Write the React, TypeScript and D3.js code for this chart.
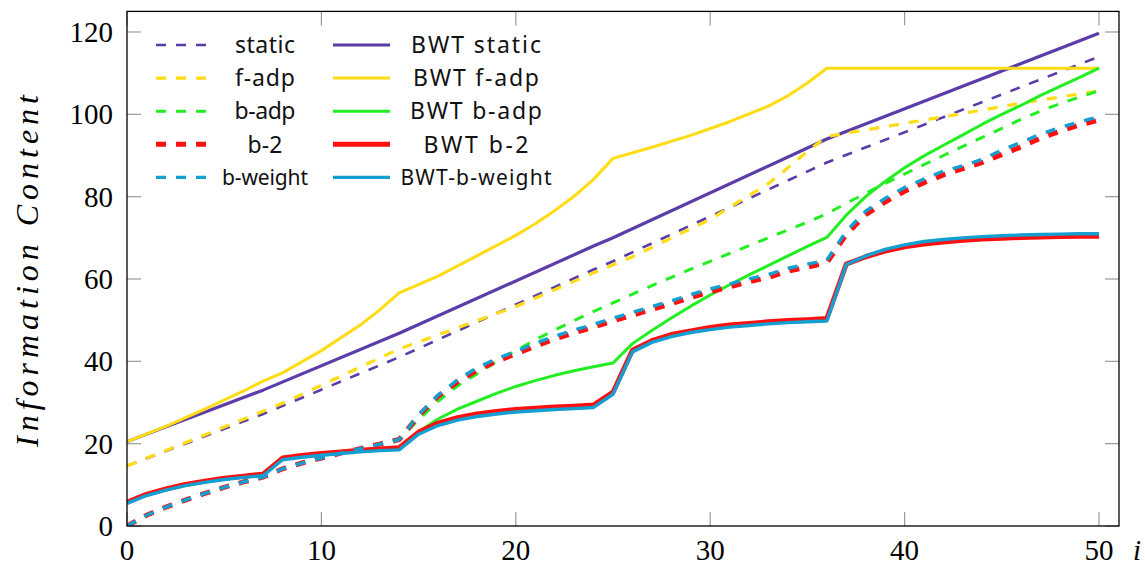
import * as d3 from 'd3';

// x positions are integer steps i = 0..50; each series is a list of [i, value]
const STATIC = [[0, 14.6], [7, 27.2], [14, 41], [24, 62.3], [25, 64.3], [36, 88.3], [50, 114]];
const BWT_STATIC = [[0, 20.5], [7, 33], [14, 46.8], [24, 68], [25, 70], [36, 94], [50, 119.7]];

const F_ADP = [
  [0, 14.6], [4, 22.1], [8, 29.8], [10, 34.2], [14, 43], [20, 53.3], [24, 61.5], [26, 65.4],
  [30, 74.5], [32, 80.3], [33, 83.2], [34, 87], [35, 91], [36, 94.6], [38, 96.2], [42, 99.4],
  [46, 102.7], [50, 105.7],
];
const BWT_F_ADP = [
  [0, 20.5], [2, 24.2], [4, 28.4], [6, 32.8], [7, 35.2], [8, 37.2], [10, 42.6], [12, 48.8],
  [13, 52.5], [14, 56.6], [16, 60.7], [18, 65.6], [20, 70.6], [21, 73.4], [22, 76.6], [23, 80.1],
  [24, 84.2], [25, 89.3], [27, 92], [29, 94.9], [31, 98.2], [33, 102], [34, 104.5], [35, 107.6],
  [36, 111.2], [50, 111.2],
];

const B_ADP = [
  [0, 0], [1, 2.6], [2, 4.6], [3, 6.3], [4, 7.9], [5, 9.4], [6, 10.7], [7, 11.9], [8, 13.9],
  [9, 15.3], [10, 16.5], [11, 17.7], [12, 18.8], [13, 19.9], [14, 21], [15, 25.8], [16, 30.3],
  [17, 34], [18, 36.9], [19, 39.9], [20, 42.6], [21, 45.2], [22, 47.6], [23, 49.9], [24, 52.1],
  [25, 54.2], [26, 56.3], [27, 58.4], [28, 60.4], [29, 62.4], [30, 64.3], [31, 66.2], [32, 68.1],
  [33, 70], [34, 71.9], [35, 73.8], [36, 75.8], [37, 78.4], [38, 80.8], [39, 83.2], [40, 85.5],
  [41, 87.8], [42, 90], [43, 92.2], [44, 94.4], [45, 96.6], [46, 98.8], [47, 100.8], [48, 102.6],
  [49, 104.2], [50, 105.7],
];
const BWT_B_ADP = [
  [0, 5.8], [1, 7.7], [2, 9], [3, 10.1], [4, 10.9], [5, 11.6], [6, 12.1], [7, 12.7], [8, 16.6],
  [9, 17.2], [10, 17.7], [11, 18.1], [12, 18.5], [13, 18.8], [14, 19.1], [15, 22.9], [16, 26],
  [17, 28.4], [18, 30.3], [19, 32.2], [20, 33.9], [21, 35.3], [22, 36.6], [23, 37.7], [24, 38.7],
  [25, 39.6], [26, 44.3], [27, 47.5], [28, 50.5], [29, 53.4], [30, 56.1], [31, 58.6], [32, 61],
  [33, 63.3], [34, 65.6], [35, 67.9], [36, 70.1], [37, 75.5], [38, 80], [39, 83.7], [40, 87],
  [41, 89.9], [42, 92.5], [43, 95], [44, 97.6], [45, 100], [46, 102.2], [47, 104.6], [48, 106.8],
  [49, 109], [50, 111.2],
];

const B_2 = [
  [0, 0], [1, 2.6], [2, 4.6], [3, 6.3], [4, 7.9], [5, 9.4], [6, 10.7], [7, 11.9], [8, 13.9],
  [9, 15.3], [10, 16.5], [11, 17.7], [12, 18.8], [13, 19.9], [14, 21], [15, 26.8], [16, 31.5],
  [17, 35], [18, 37.8], [19, 40], [20, 41.8], [21, 43.7], [22, 45.4], [23, 46.9], [24, 48.3],
  [25, 49.8], [26, 51.2], [27, 52.6], [28, 54], [29, 55.5], [30, 56.9], [31, 58.1], [32, 59.3],
  [33, 60.4], [34, 61.9], [35, 62.9], [36, 63.9], [37, 70.8], [38, 75.6], [39, 78.7], [40, 81.3],
  [41, 83.4], [42, 85.3], [43, 86.8], [44, 88.3], [45, 90.2], [46, 92.1], [47, 94.2], [48, 95.9],
  [49, 97.4], [50, 98.6],
];
const BWT_B_2 = [
  [0, 5.8], [1, 7.7], [2, 9], [3, 10.1], [4, 10.9], [5, 11.6], [6, 12.1], [7, 12.6], [8, 16.5],
  [9, 17.1], [10, 17.6], [11, 18], [12, 18.4], [13, 18.7], [14, 19], [15, 22.8], [16, 25],
  [17, 26.3], [18, 27.2], [19, 27.8], [20, 28.3], [21, 28.6], [22, 28.9], [23, 29.1], [24, 29.4],
  [25, 32.5], [26, 42.7], [27, 45], [28, 46.5], [29, 47.4], [30, 48.2], [31, 48.8], [32, 49.2],
  [33, 49.6], [34, 49.9], [35, 50.1], [36, 50.4], [37, 63.6], [38, 65.4], [39, 66.8], [40, 67.8],
  [41, 68.5], [42, 69], [43, 69.4], [44, 69.7], [45, 69.9], [46, 70.1], [47, 70.2], [48, 70.3],
  [49, 70.4], [50, 70.4],
];

const B_WEIGHT = [
  [0, 0], [1, 2.6], [2, 4.6], [3, 6.3], [4, 7.9], [5, 9.4], [6, 10.7], [7, 11.9], [8, 13.9],
  [9, 15.3], [10, 16.5], [11, 17.7], [12, 18.8], [13, 19.9], [14, 21], [15, 27], [16, 31.8],
  [17, 35.5], [18, 38.4], [19, 40.6], [20, 42.4], [21, 44.4], [22, 46.1], [23, 47.6], [24, 49],
  [25, 50.5], [26, 51.9], [27, 53.3], [28, 54.7], [29, 56.2], [30, 57.6], [31, 58.8], [32, 60],
  [33, 61.1], [34, 62.6], [35, 63.6], [36, 64.6], [37, 71.6], [38, 76.5], [39, 79.6], [40, 82.2],
  [41, 84.3], [42, 86.2], [43, 87.5], [44, 89.1], [45, 91.3], [46, 93.2], [47, 95.2], [48, 96.8],
  [49, 98.2], [50, 99.4],
];
const BWT_B_WEIGHT = [
  [0, 5.5], [1, 7.4], [2, 8.7], [3, 9.8], [4, 10.6], [5, 11.3], [6, 11.8], [7, 12.2], [8, 16.1],
  [9, 16.7], [10, 17.2], [11, 17.6], [12, 18], [13, 18.3], [14, 18.5], [15, 22.3], [16, 24.4],
  [17, 25.7], [18, 26.6], [19, 27.2], [20, 27.7], [21, 28], [22, 28.3], [23, 28.5], [24, 28.8],
  [25, 32], [26, 42.3], [27, 44.6], [28, 46], [29, 47], [30, 47.7], [31, 48.3], [32, 48.7],
  [33, 49.1], [34, 49.4], [35, 49.6], [36, 49.8], [37, 63.5], [38, 65.6], [39, 67.2], [40, 68.3],
  [41, 69.1], [42, 69.6], [43, 70], [44, 70.3], [45, 70.5], [46, 70.7], [47, 70.8], [48, 70.9],
  [49, 71], [50, 71],
];

const X_TICKS = [0, 10, 20, 30, 40, 50];
const Y_TICKS = [0, 20, 40, 60, 80, 100, 120];

const PURPLE = '#5b3ca8';
const YELLOW = '#ffdc14';
const GREEN = '#22ee22';
const RED = '#ff1010';
const BLUE = '#139fd1';

// drawing order follows the legend (row-wise, two columns)
const SERIES = [
  { name: 'static', data: STATIC, color: PURPLE, width: 2.6, dashed: true, col: 0, row: 0 },
  { name: 'BWT static', data: BWT_STATIC, color: PURPLE, width: 3.2, dashed: false, col: 1, row: 0 },
  { name: 'f-adp', data: F_ADP, color: YELLOW, width: 3.2, dashed: true, col: 0, row: 1 },
  { name: 'BWT f-adp', data: BWT_F_ADP, color: YELLOW, width: 3, dashed: false, col: 1, row: 1 },
  { name: 'b-adp', data: B_ADP, color: GREEN, width: 3, dashed: true, col: 0, row: 2 },
  { name: 'BWT b-adp', data: BWT_B_ADP, color: GREEN, width: 3, dashed: false, col: 1, row: 2 },
  { name: 'b-2', data: B_2, color: RED, width: 5, dashed: true, col: 0, row: 3 },
  { name: 'BWT b-2', data: BWT_B_2, color: RED, width: 5, dashed: false, col: 1, row: 3 },
  { name: 'b-weight', data: B_WEIGHT, color: BLUE, width: 3.4, dashed: true, col: 0, row: 4 },
  { name: 'BWT-b-weight', data: BWT_B_WEIGHT, color: BLUE, width: 3.4, dashed: false, col: 1, row: 4 },
];

const LABEL_WIDTHS: Record<string, number> = {
  static: 60, 'f-adp': 60, 'b-adp': 61, 'b-2': 35, 'b-weight': 86,
  'BWT static': 130, 'BWT f-adp': 126, 'BWT b-adp': 132, 'BWT b-2': 105, 'BWT-b-weight': 151,
};

const W = 1145;
const H = 565;
const LEFT = 127;
const RIGHT = 1119;
const TOP = 11.4;
const BOTTOM = 526;

const CSS = `
  svg text.cm { font-family: 'Liberation Serif', 'Times New Roman', serif !important; }
  svg text.cm-it { font-family: 'Liberation Serif', 'Times New Roman', serif !important; font-style: italic !important; }
  svg text.ss { font-family: 'Noto Sans', sans-serif !important; }
`;

export default function App() {
  const x = d3.scaleLinear().domain([0, 51.03]).range([LEFT, RIGHT]);
  const y = d3.scaleLinear().domain([0, 125]).range([BOTTOM, TOP]);
  const line = d3
    .line<number[]>()
    .x(d => x(d[0]))
    .y(d => y(d[1]));

  const TICK = 14;

  return (
    <svg width={W} height={H} style={{ position: 'absolute', left: 0, top: 0, background: '#fff' }}>
      <style>{CSS}</style>
      <defs>
        <clipPath id="plot">
          <rect x={LEFT} y={TOP} width={RIGHT - LEFT} height={BOTTOM - TOP} />
        </clipPath>
      </defs>

      {/* ticks (inside, mirrored) */}
      <g stroke="#9a9a9a" strokeWidth={1.2}>
        {X_TICKS.map(t => (
          <g key={'xt' + t}>
            <line x1={x(t)} x2={x(t)} y1={BOTTOM} y2={BOTTOM - TICK} />
            <line x1={x(t)} x2={x(t)} y1={TOP} y2={TOP + TICK} />
          </g>
        ))}
        {Y_TICKS.map(t => (
          <g key={'yt' + t}>
            <line x1={LEFT} x2={LEFT + TICK} y1={y(t)} y2={y(t)} />
            <line x1={RIGHT} x2={RIGHT - TICK} y1={y(t)} y2={y(t)} />
          </g>
        ))}
      </g>

      {/* series */}
      <g clipPath="url(#plot)" fill="none" strokeLinejoin="round">
        {SERIES.map(s => (
          <path
            key={s.name}
            d={line(s.data) ?? ''}
            stroke={s.color}
            strokeWidth={s.width}
            strokeDasharray={s.dashed ? '10 10' : undefined}
          />
        ))}
      </g>

      {/* frame */}
      <rect
        x={LEFT}
        y={TOP}
        width={RIGHT - LEFT}
        height={BOTTOM - TOP}
        fill="none"
        stroke="#000"
        strokeWidth={1.3}
      />

      {/* tick labels */}
      {X_TICKS.map(t => (
        <text key={'xl' + t} className="cm" x={x(t)} y={560} textAnchor="middle" fontSize={29}>
          {String(t)}
        </text>
      ))}
      {Y_TICKS.map(t => (
        <text key={'yl' + t} className="cm" x={113} y={y(t) + 10} textAnchor="end" fontSize={29}>
          {String(t)}
        </text>
      ))}

      {/* axis labels */}
      <text className="cm-it" x={1137} y={560} fontSize={29} textAnchor="middle">
        i
      </text>
      <text
        className="cm-it"
        transform="translate(38, 271) rotate(-90)"
        fontSize={32}
        textAnchor="middle"
        textLength={352}
        lengthAdjust="spacing"
      >
        Information Content
      </text>

      {/* legend */}
      {SERIES.map(s => {
        const rowY = 45 + s.row * 33.1;
        const x0 = s.col === 0 ? 156 : 333;
        const x1 = s.col === 0 ? 206 : 390;
        const tx = s.col === 0 ? 265 : 476;
        const small = s.row === 4;
        return (
          <g key={'lg' + s.name}>
            <line
              x1={x0}
              x2={x1}
              y1={rowY}
              y2={rowY}
              stroke={s.color}
              strokeWidth={s.width}
              strokeDasharray={s.dashed ? '10 10' : undefined}
            />
            <text
              className="ss"
              x={tx}
              y={rowY}
              dy="0.36em"
              textAnchor="middle"
              fill="#111"
              fontSize={small ? 21 : 23}
              textLength={LABEL_WIDTHS[s.name]}
              lengthAdjust="spacing"
            >
              {s.name}
            </text>
          </g>
        );
      })}
    </svg>
  );
}
